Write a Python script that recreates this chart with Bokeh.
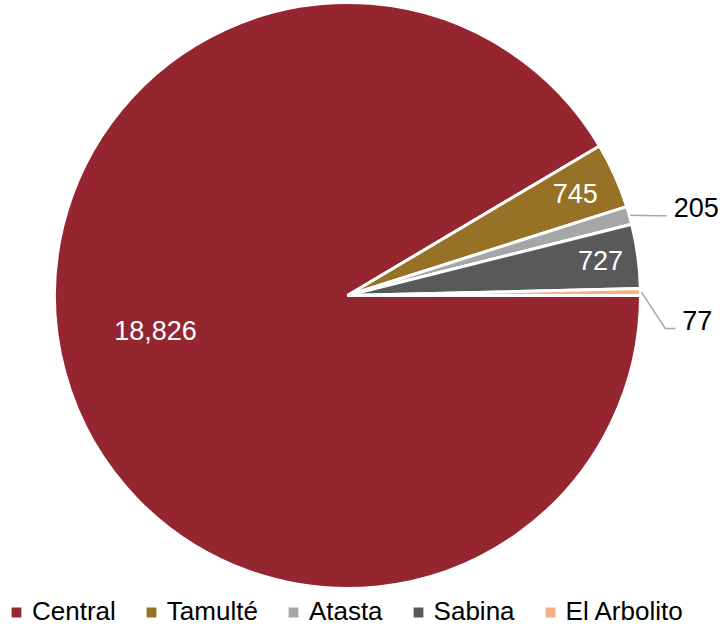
import math
from bokeh.plotting import figure
from bokeh.models import ColumnDataSource, Legend, LegendItem, Range1d
from bokeh.core.properties import value
from bokeh.embed import file_html
from bokeh.resources import INLINE

# ---- data ----
categories = ["Central", "Tamulté", "Atasta", "Sabina", "El Arbolito"]
values = [18826, 745, 205, 727, 77]
labels = ["18,826", "745", "205", "727", "77"]
colors = ["#952630", "#977125", "#A6A6A6", "#58595B", "#F4B183"]

# ---- style ----
W, H = 724, 626
CX, CY, R = 347, 331, 293
FONT = "Liberation Sans"
label_rf = [0.666, 0.852, 1.153, 0.872, 1.146]   # radius factor of label anchor
label_da = [-5.05, 0.0, -0.8, 0.2, -4.95]        # angular tweak (deg)
inside = [True, True, False, True, False]

total = float(sum(values))
starts, ends, mids = [], [], []
acc = 0.0
for v in values:
    a0 = -acc / total * 2 * math.pi
    acc += v
    a1 = -acc / total * 2 * math.pi
    starts.append(a0)
    ends.append(a1)
    mids.append((a0 + a1) / 2)

p = figure(width=W, height=H, output_backend="svg", toolbar_location=None,
           x_axis_type=None, y_axis_type=None, min_border=0,
           x_range=Range1d(0, W), y_range=Range1d(0, H),
           outline_line_color=None, background_fill_color="white")
p.grid.visible = False

src = ColumnDataSource(dict(cat=categories, val=values, start=starts, end=ends, color=colors))
wedges = p.wedge(x=CX, y=CY, radius=R, start_angle="start", end_angle="end", direction="clock",
                 fill_color="color", line_color="white", line_width=3, source=src)

# labels
in_x, in_y, in_t = [], [], []
out_x, out_y, out_t = [], [], []
lead_xs, lead_ys = [], []
for i, lab in enumerate(labels):
    ang = mids[i] + math.radians(label_da[i])
    lx = CX + R * label_rf[i] * math.cos(ang)
    ly = CY + R * label_rf[i] * math.sin(ang)
    if inside[i]:
        in_x.append(lx); in_y.append(ly); in_t.append(lab)
    else:
        out_x.append(lx); out_y.append(ly); out_t.append(lab)
        sx = CX + (R + 1) * math.cos(mids[i])
        sy = CY + (R + 1) * math.sin(mids[i])
        ey = ly - 8
        lead_xs.append([sx, lx - 17, lx - 7])
        lead_ys.append([sy, ey, ey])

p.multi_line(xs=lead_xs, ys=lead_ys, line_color="#A6A6A6", line_width=1.5)
p.text(x=in_x, y=in_y, text=in_t, text_color="white", text_font=value(FONT),
       text_font_size="27px", text_align="center", text_baseline="middle")
p.text(x=out_x, y=out_y, text=out_t, text_color="black", text_font=value(FONT),
       text_font_size="27px", text_align="left", text_baseline="middle")

# legend
items = [LegendItem(label=c, renderers=[wedges], index=i) for i, c in enumerate(categories)]
legend = Legend(items=items, orientation="horizontal", location=(8, -1),
                glyph_width=16, glyph_height=16, label_standoff=8, spacing=27,
                padding=0, margin=0, border_line_color=None, background_fill_alpha=0,
                label_text_font=FONT, label_text_font_size="26px", label_text_color="black")
p.add_layout(legend, "center")

open("out.html", "w").write(file_html(p, INLINE))
